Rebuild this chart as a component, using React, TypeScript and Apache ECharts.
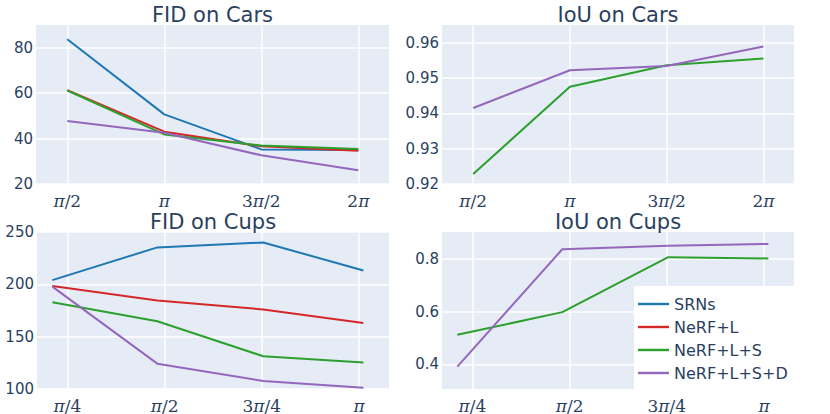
import { useEffect, useRef } from 'react';
import * as echarts from 'echarts';

// ---- data ----
const seriesNames = ['SRNs', 'NeRF+L', 'NeRF+L+S', 'NeRF+L+S+D'];
const seriesColors = ['#1f77b4', '#d62728', '#2ca02c', '#9467bd'];

// x positions (radians)
const carsX = [1.5708, 3.1416, 4.7124, 6.2832];
const cupsX = [0.664, 1.512, 2.368, 3.177];

// tick values and labels
const carsTicks = [1.5708, 3.1416, 4.7124, 6.2832];
const carsTickLabels = ['π/2', 'π', '3π/2', '2π'];
const cupsTicks = [0.7854, 1.5708, 2.3562, 3.1416];
const cupsTickLabels = ['π/4', 'π/2', '3π/4', 'π'];

// FID on Cars
const fidCarsSRNs = [83.6, 50.6, 35.2, 35.0];
const fidCarsL = [61.3, 43.0, 36.6, 34.6];
const fidCarsLS = [61.1, 41.8, 36.9, 35.4];
const fidCarsLSD = [47.7, 42.5, 32.6, 26.0];

// IoU on Cars
const iouCarsLS = [0.9228, 0.9475, 0.9536, 0.9555];
const iouCarsLSD = [0.9415, 0.9522, 0.9534, 0.9589];

// FID on Cups
const fidCupsSRNs = [204.0, 235.3, 240.0, 213.2];
const fidCupsL = [198.4, 184.5, 176.0, 163.0];
const fidCupsLS = [182.8, 164.8, 131.3, 125.4];
const fidCupsLSD = [197.8, 124.2, 107.6, 101.3];

// IoU on Cups
const iouCupsLS = [0.512, 0.598, 0.807, 0.802];
const iouCupsLSD = [0.391, 0.837, 0.850, 0.857];

const titles = ['FID on Cars', 'IoU on Cars', 'FID on Cups', 'IoU on Cups'];

const TEXT = '#2a3f5f';

export default function App() {
  const ref = useRef<HTMLDivElement>(null);

  useEffect(() => {
    if (!ref.current) return;
    const chart = echarts.init(ref.current, undefined, { renderer: 'svg' });

    const grids = [
      { left: 36, top: 25, width: 353, height: 159 },
      { left: 442, top: 25, width: 352, height: 159 },
      { left: 37, top: 232, width: 352, height: 159 },
      { left: 442, top: 232, width: 352, height: 159 },
    ].map((g) => ({ ...g, show: true, backgroundColor: '#E5ECF6', borderWidth: 0 }));

    const titleCenters = [
      [212.5, 4],
      [618, 4],
      [213, 211],
      [618, 211],
    ];

    const richLabel = (s: string) => s.replace(/π/g, '{p|π}');

    const xAxis = (idx: number, ticks: number[], labels: string[], min: number, max: number) => ({
      type: 'value',
      gridIndex: idx,
      min,
      max,
      axisLine: { show: false },
      axisTick: { show: false, customValues: ticks },
      splitLine: { show: true, lineStyle: { color: '#ffffff', width: 1.5 } },
      axisLabel: {
        customValues: ticks,
        margin: 8,
        color: TEXT,
        fontFamily: 'DejaVu Serif',
        fontSize: 17,
        formatter: (v: number) => {
          let best = 0;
          ticks.forEach((t, i) => {
            if (Math.abs(t - v) < Math.abs(ticks[best] - v)) best = i;
          });
          return richLabel(labels[best]);
        },
        rich: {
          p: { fontStyle: 'italic', fontFamily: 'DejaVu Serif', fontSize: 17, color: TEXT },
        },
      },
    });

    const yAxis = (idx: number, min: number, max: number, ticks: number[], digits: number) => ({
      type: 'value',
      gridIndex: idx,
      min,
      max,
      axisLine: { show: false },
      axisTick: { show: false, customValues: ticks },
      splitLine: { show: true, lineStyle: { color: '#ffffff', width: 1.5 } },
      axisLabel: {
        customValues: ticks,
        margin: 3,
        color: TEXT,
        fontFamily: 'DejaVu Sans',
        fontSize: 15,
        formatter: (v: number) => v.toFixed(digits),
      },
    });

    const mk = (name: string, xs: number[], ys: number[], axis: number) => {
      const ci = seriesNames.indexOf(name);
      return {
        type: 'line',
        name,
        xAxisIndex: axis,
        yAxisIndex: axis,
        symbol: 'none',
        data: xs.map((x, i) => [x, ys[i]]),
        lineStyle: { width: 2, color: seriesColors[ci] },
        itemStyle: { color: seriesColors[ci] },
      };
    };

    const option = {
      animation: false,
      color: seriesColors,
      title: titles.map((t, i) => ({
        text: t,
        left: titleCenters[i][0],
        top: titleCenters[i][1],
        textAlign: 'center',
        padding: 0,
        textStyle: { color: TEXT, fontFamily: 'DejaVu Sans', fontSize: 21, fontWeight: 'normal' },
      })),
      grid: grids,
      xAxis: [
        xAxis(0, carsTicks, carsTickLabels, 1.064, 6.78),
        xAxis(1, carsTicks, carsTickLabels, 1.064, 6.78),
        xAxis(2, cupsTicks, cupsTickLabels, 0.54, 3.384),
        xAxis(3, cupsTicks, cupsTickLabels, 0.54, 3.384),
      ],
      yAxis: [
        yAxis(0, 20, 89.9, [20, 40, 60, 80], 0),
        yAxis(1, 0.92, 0.965, [0.92, 0.93, 0.94, 0.95, 0.96], 2),
        yAxis(2, 100, 250, [100, 150, 200, 250], 0),
        yAxis(3, 0.306, 0.9025, [0.4, 0.6, 0.8], 1),
      ],
      legend: {
        data: seriesNames,
        orient: 'vertical',
        left: 638,
        top: 296,
        padding: 0,
        icon: 'rect',
        itemWidth: 31,
        itemHeight: 2.4,
        itemGap: 7,
        z: 10,
        textStyle: { color: TEXT, fontFamily: 'DejaVu Sans', fontSize: 16, lineHeight: 16 },
      },
      graphic: [
        {
          type: 'rect',
          z: 5,
          shape: { x: 634, y: 286, width: 160, height: 103 },
          style: { fill: '#ffffff' },
        },
      ],
      series: [
        mk('SRNs', carsX, fidCarsSRNs, 0),
        mk('NeRF+L', carsX, fidCarsL, 0),
        mk('NeRF+L+S', carsX, fidCarsLS, 0),
        mk('NeRF+L+S+D', carsX, fidCarsLSD, 0),
        mk('NeRF+L+S', carsX, iouCarsLS, 1),
        mk('NeRF+L+S+D', carsX, iouCarsLSD, 1),
        mk('SRNs', cupsX, fidCupsSRNs, 2),
        mk('NeRF+L', cupsX, fidCupsL, 2),
        mk('NeRF+L+S', cupsX, fidCupsLS, 2),
        mk('NeRF+L+S+D', cupsX, fidCupsLSD, 2),
        mk('NeRF+L+S', cupsX, iouCupsLS, 3),
        mk('NeRF+L+S+D', cupsX, iouCupsLSD, 3),
      ],
    };

    chart.setOption(option as any);
    return () => chart.dispose();
  }, []);

  return (
    <div
      ref={ref}
      style={{ position: 'fixed', left: 0, top: 0, width: 830, height: 414, background: '#ffffff' }}
    />
  );
}
